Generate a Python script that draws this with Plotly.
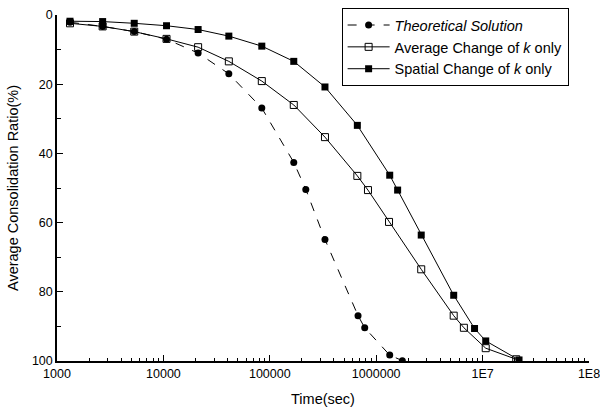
import plotly.graph_objects as go

# Theoretical solution
theo_t = [1325, 2685, 5320, 10700, 21200, 41200, 84100, 168000, 218000, 330000,
          675000, 780000, 1340000, 1760000]
theo_u = [2.1, 3.3, 4.8, 7.0, 11.0, 17.0, 26.9, 42.6, 50.4, 64.9, 86.9, 90.4, 98.3, 99.9]

# Average change of k only
avg_t = [1325, 2685, 5320, 10700, 21200, 41200, 84100, 168000, 330000, 665000,
         837000, 1320000, 2650000, 5350000, 6670000, 10700000, 20700000]
avg_u = [2.4, 3.3, 4.8, 6.9, 9.3, 13.4, 19.1, 26.0, 35.3, 46.5, 50.6, 59.8, 73.5,
         86.9, 90.4, 96.3, 99.5]

# Spatial change of k only
spa_t = [1325, 2685, 5320, 10700, 21200, 41200, 84100, 168000, 330000, 665000,
         1340000, 1590000, 2650000, 5350000, 8400000, 10700000, 22000000]
spa_u = [1.8, 1.9, 2.4, 3.1, 4.2, 6.1, 9.0, 13.4, 20.8, 31.9, 46.3, 50.6, 63.6,
         81.0, 90.6, 94.2, 99.7]

x_tickvals = [1e3, 1e4, 1e5, 1e6, 1e7, 1e8]
x_ticktext = ["1000", "10000", "100000", "1000000", "1E7", "1E8"]
y_tickvals = [0, 20, 40, 60, 80, 100]
y_minor = [10, 30, 50, 70, 90]
x_minor = [m * 10 ** e for e in range(3, 8) for m in range(2, 10)]

FONT = "Liberation Sans, Arial, sans-serif"

fig = go.Figure()
fig.add_trace(go.Scatter(
    x=theo_t, y=theo_u, mode="lines+markers", name="<i>Theoretical Solution</i>",
    line=dict(color="black", width=1, dash="dash"),
    marker=dict(symbol="circle", size=7, color="black")))
fig.add_trace(go.Scatter(
    x=avg_t, y=avg_u, mode="lines+markers", name="Average Change of <i>k</i> only",
    line=dict(color="black", width=1),
    marker=dict(symbol="square-open", size=7, color="black", line=dict(width=1))))
fig.add_trace(go.Scatter(
    x=spa_t, y=spa_u, mode="lines+markers", name="Spatial Change of <i>k</i> only",
    line=dict(color="black", width=1),
    marker=dict(symbol="square", size=7, color="black")))

fig.update_layout(
    width=600, height=408,
    margin=dict(l=57, r=11, t=15, b=47, autoexpand=False),
    paper_bgcolor="white", plot_bgcolor="white",
    font=dict(family=FONT, size=12, color="black"),
    showlegend=True,
    legend=dict(x=0.535, y=1.02, xanchor="left", yanchor="top",
                bordercolor="black", borderwidth=1, bgcolor="white",
                font=dict(size=14.5, family=FONT), tracegroupgap=0,
                itemwidth=42),
    xaxis=dict(type="log", range=[3, 8], tickmode="array",
               tickvals=x_tickvals, ticktext=x_ticktext, automargin=False,
               ticklabeloverflow="allow",
               ticks="inside", ticklen=6, tickwidth=1, tickcolor="black",
               showline=True, linecolor="black", linewidth=1.5, mirror=False,
               showgrid=False, zeroline=False,
               minor=dict(tickmode="array", tickvals=x_minor, ticks="inside",
                          ticklen=3, tickcolor="black", showgrid=False),
               title=dict(text="Time(sec)", font=dict(size=14.5), standoff=14),
               tickfont=dict(size=12.5)),
    yaxis=dict(range=[100, 0], tickmode="array", tickvals=y_tickvals,
               automargin=False, ticklabeloverflow="allow",
               ticks="inside", ticklen=6, tickwidth=1, tickcolor="black",
               showline=True, linecolor="black", linewidth=1.5, mirror=False,
               showgrid=False, zeroline=False,
               minor=dict(tickmode="array", tickvals=y_minor, ticks="inside",
                          ticklen=4, tickcolor="black", showgrid=False),
               title=dict(text="Average Consolidation Ratio(%)", font=dict(size=14.5),
                          standoff=10),
               tickfont=dict(size=12.5)),
)

fig.write_html("out.html")
